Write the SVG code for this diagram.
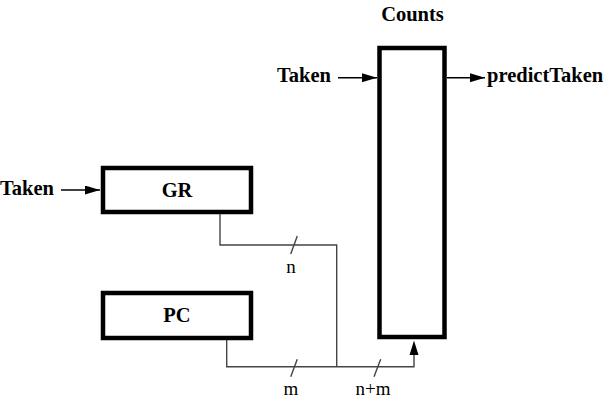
<svg xmlns="http://www.w3.org/2000/svg" width="609" height="409" viewBox="0 0 609 409">
<style>
.box{fill:#fff;stroke:#000;stroke-width:4.5}
.b{font-family:"Liberation Serif",serif;font-weight:bold;font-size:20.5px;fill:#000}
.r{font-family:"Liberation Serif",serif;font-size:19px;fill:#000}
.w{fill:none;stroke:#444;stroke-width:1.4}
.a{fill:none;stroke:#000;stroke-width:1.5}
</style>
<defs>
<marker id="ah" markerWidth="15" markerHeight="9" refX="15" refY="4.5" orient="auto" markerUnits="userSpaceOnUse">
<path d="M0,0 L15,4.5 L0,9 Z" fill="#000"/>
</marker>
</defs>
<rect width="609" height="409" fill="#fff"/>
<g id="counts">
<rect class="box" x="379.5" y="48" width="65" height="289"/>
<text class="b" x="412.5" y="21" text-anchor="middle">Counts</text>
</g>
<g id="gr">
<rect class="box" x="103" y="168" width="148" height="44"/>
<text class="b" x="177" y="197" text-anchor="middle">GR</text>
</g>
<g id="pc">
<rect class="box" x="103" y="293" width="148" height="45"/>
<text class="b" x="177" y="322" text-anchor="middle">PC</text>
</g>
<g id="labels">
<text class="b" x="331" y="82" text-anchor="end">Taken</text>
<text class="b" x="54" y="195" text-anchor="end">Taken</text>
<text class="b" x="487" y="82">predictTaken</text>
<text class="r" x="291" y="273" text-anchor="middle">n</text>
<text class="r" x="291" y="395" text-anchor="middle">m</text>
<text class="r" x="373" y="395" text-anchor="middle">n+m</text>
</g>
<g id="connectors">
<line class="a" x1="338" y1="77.7" x2="377" y2="77.7" marker-end="url(#ah)"/>
<line class="a" x1="447" y1="77.7" x2="485" y2="77.7" marker-end="url(#ah)"/>
<line class="a" x1="61" y1="190" x2="100" y2="190" marker-end="url(#ah)"/>
<polyline class="w" points="220,214 220,245 336.7,245 336.7,366.7"/>
<polyline class="w" points="226.7,340 226.7,366.7 414,366.7 414,355"/>
<path d="M409.5,355 L414,340.5 L418.5,355 Z" fill="#000"/>
<line class="w" x1="297.3" y1="236" x2="290.7" y2="254"/>
<line class="w" x1="297.3" y1="359.3" x2="290.7" y2="376.7"/>
<line class="w" x1="380.7" y1="359.3" x2="374" y2="376.7"/>
</g>
</svg>
